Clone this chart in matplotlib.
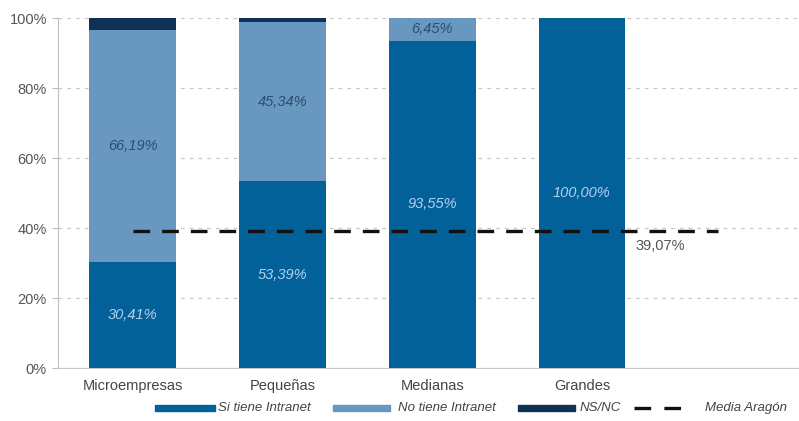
import matplotlib
matplotlib.use("Agg")
import matplotlib.pyplot as plt
from matplotlib.patches import Rectangle
from matplotlib.lines import Line2D
import numpy as np

plt.rcParams['font.family'] = ['Liberation Sans', 'DejaVu Sans']

categories = ["Microempresas", "Pequeñas", "Medianas", "Grandes"]
si_tiene = [30.41, 53.39, 93.55, 100.00]
no_tiene = [66.19, 45.34, 6.45, 0.0]
ns_nc = [3.40, 1.27, 0.0, 0.0]
media_aragon = 39.07
series_names = ["Si tiene Intranet", "No tiene Intranet", "NS/NC", "Media Aragón"]

c_si = "#03619a"
c_no = "#6898c0"
c_ns = "#0f3158"

def fmt(v):
    return f"{v:.2f}".replace(".", ",") + "%"

W, H = 799, 421
fig = plt.figure(figsize=(W / 100, H / 100), dpi=100)
ax = fig.add_axes([58 / W, 1 - 368 / H, 1 - 58 / W, 350 / H])

x = np.arange(len(categories))
w = 0.58
si = np.array(si_tiene)
no = np.array(no_tiene)
ns = np.array(ns_nc)

ax.bar(x, si, w, color=c_si, zorder=3)
ax.bar(x, no, w, bottom=si, color=c_no, zorder=3)
ax.bar(x, ns, w, bottom=si + no, color=c_ns, zorder=3)

for i in range(len(categories)):
    ax.text(x[i], si[i] / 2, fmt(si[i]), ha="center", va="center",
            color="#b0cfee", fontsize=10.5, style="italic", zorder=4)
    if no[i] > 0:
        ax.text(x[i], si[i] + no[i] / 2, fmt(no[i]), ha="center", va="center",
                color="#2d4d70", fontsize=10.5, style="italic", zorder=4)

# average line
ax.plot([x[0], 3.91], [media_aragon, media_aragon], color="#111111",
        lw=2.4, dashes=(5, 3.6), zorder=5)
ax.text(3.36, media_aragon - 4.3, fmt(media_aragon), ha="left", va="center",
        color="#555555", fontsize=10.5)

ax.set_xlim(-0.5, 4.45)
ax.set_ylim(0, 100)
ax.set_yticks(np.arange(0, 101, 20))
ax.set_yticklabels([f"{v}%" for v in range(0, 101, 20)], color="#555555", fontsize=10.5)
ax.set_xticks(x)
ax.set_xticklabels(categories, color="#444444", fontsize=10.5)
ax.tick_params(axis="x", length=0, pad=8)
ax.tick_params(axis="y", length=4, color="#bbbbbb", pad=4)

ax.yaxis.grid(True, color="#c8c8c8", linestyle=(0, (3, 4)), lw=0.9, zorder=0)
for s in ["top", "right"]:
    ax.spines[s].set_visible(False)
ax.spines["left"].set_color("#c0c0c0")
ax.spines["bottom"].set_color("#c8c8c8")

# legend row along the bottom, laid out in figure pixels
ly = 1 - 408 / H
patch_h = 6 / H
entries = [(155, 215, c_si, 218), (333, 390, c_no, 398), (518, 575, c_ns, 580)]
for (x0, x1, col, tx), name in zip(entries, series_names[:3]):
    fig.add_artist(Rectangle((x0 / W, ly - patch_h / 2), (x1 - x0) / W, patch_h,
                             transform=fig.transFigure, color=col))
    fig.text(tx / W, ly, name, ha="left", va="center", fontsize=9.5,
             style="italic", color="#444444")
fig.add_artist(Line2D([634 / W, 689 / W], [ly, ly], transform=fig.transFigure,
                      color="#111111", lw=2.4, dashes=(5, 3.96)))
fig.text(705 / W, ly, series_names[3], ha="left", va="center", fontsize=9.5,
         style="italic", color="#444444")

fig.savefig("out.png", dpi=100)
